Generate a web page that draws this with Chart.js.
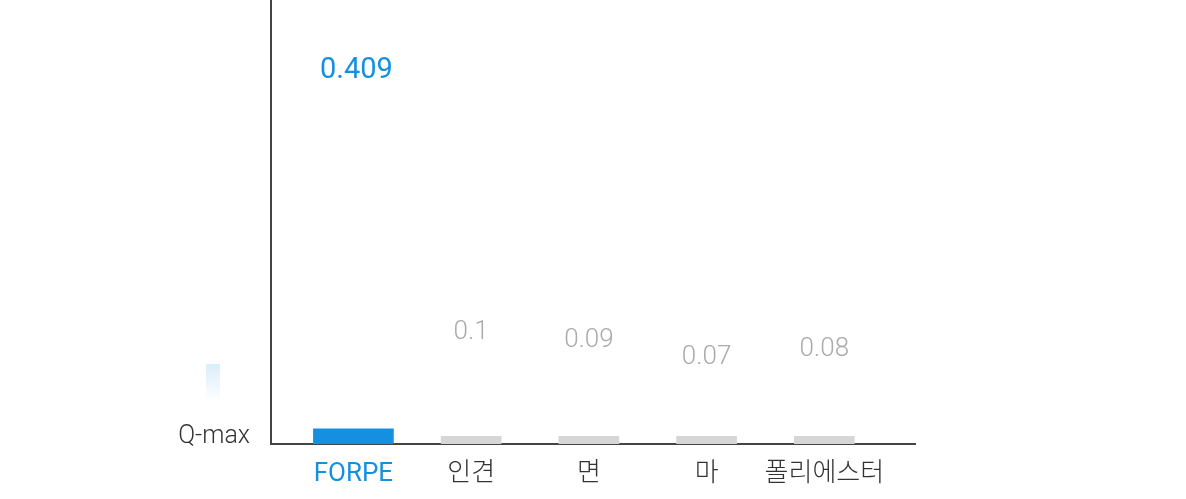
<!DOCTYPE html>
<html>
<head>
<meta charset="utf-8">
<script src="https://cdn.jsdelivr.net/npm/chart.js@4.4.1/dist/chart.umd.min.js"></script>
<style>
  html, body { margin: 0; padding: 0; background: #ffffff; }
  #wrap { position: relative; width: 1186px; height: 499px; }
</style>
</head>
<body>
<div id="wrap"><canvas id="c" width="1186" height="499"></canvas></div>
<script>
// ---- data ----
const categories = ['FORPE', '인견', '면', '마', '폴리에스터'];
const qmaxValues = [0.409, 0.1, 0.09, 0.07, 0.08];
// bar heights as they appear in the reference frame (bars just starting to grow)
const barShownLevels = [0.018, 0.009, 0.009, 0.009, 0.009];
const legendLabel = 'Q-max';

const BLUE = '#1590e0';
const GREY_BAR = '#d6d6d6';
const GREY_TEXT = '#aaaaaa';
const DARK = '#333333';
const FONT = 'Roboto, "Noto Sans CJK KR", sans-serif';

const highlightPts = [{ x: 0, y: barShownLevels[0] }];
const otherPts = [];
for (let i = 1; i < categories.length; i++) otherPts.push({ x: i, y: barShownLevels[i] });

const valueLabels = {
  id: 'valueLabels',
  afterDatasetsDraw(chart) {
    const { ctx, scales } = chart;
    ctx.save();
    ctx.textAlign = 'center';
    ctx.textBaseline = 'middle';
    qmaxValues.forEach((v, i) => {
      const x = scales.x.getPixelForValue(i);
      const y = scales.y.getPixelForValue(v) - 27;
      if (i === 0) {
        ctx.fillStyle = BLUE;
        ctx.font = '400 29px ' + FONT;
        ctx.fillText(String(v), x + 3, y);
      } else {
        ctx.fillStyle = GREY_TEXT;
        ctx.font = '300 26px ' + FONT;
        ctx.fillText(String(v), x, y);
      }
    });
    ctx.restore();
  }
};

const qLegend = {
  id: 'qLegend',
  afterDraw(chart) {
    const { ctx } = chart;
    ctx.save();
    const g = ctx.createLinearGradient(0, 364, 0, 402);
    g.addColorStop(0, 'rgba(21,144,224,0.16)');
    g.addColorStop(1, 'rgba(21,144,224,0)');
    ctx.fillStyle = g;
    ctx.fillRect(206, 364, 14, 38);
    ctx.fillStyle = DARK;
    ctx.font = '300 25px ' + FONT;
    ctx.textAlign = 'right';
    ctx.textBaseline = 'middle';
    ctx.fillText(legendLabel, 250, 437);
    ctx.restore();
  }
};

new Chart(document.getElementById('c'), {
  type: 'bar',
  data: {
    datasets: [
      { label: categories[0], data: highlightPts, backgroundColor: BLUE, barThickness: 80 },
      { label: 'others', data: otherPts, backgroundColor: GREY_BAR, barThickness: 60 }
    ]
  },
  options: {
    responsive: false,
    animation: false,
    grouped: false,
    layout: { padding: { left: 271, right: 271, top: 0, bottom: -5 } },
    plugins: { legend: { display: false }, tooltip: { enabled: false } },
    scales: {
      x: {
        type: 'linear',
        offset: false,
        min: -0.70,
        max: 4.77,
        z: 1,
        grid: { display: false, drawTicks: false, offset: false },
        border: { display: true, color: '#444444', width: 2 },
        ticks: {
          stepSize: 1,
          includeBounds: false,
          padding: 17,
          autoSkip: false,
          maxRotation: 0,
          callback: (v) => (categories[v] !== undefined ? categories[v] : ''),
          color: (c) => (c.tick && c.tick.value === 0 ? BLUE : DARK),
          font: (c) => ({
            family: FONT,
            size: 26,
            lineHeight: 1.0,
            weight: c.tick && c.tick.value === 0 ? '400' : '300'
          })
        }
      },
      y: {
        min: 0,
        max: 0.524,
        z: 1,
        grid: { display: false, drawTicks: false },
        border: { display: true, color: '#444444', width: 2 },
        ticks: { display: false }
      }
    }
  },
  plugins: [valueLabels, qLegend]
});
</script>
</body>
</html>
